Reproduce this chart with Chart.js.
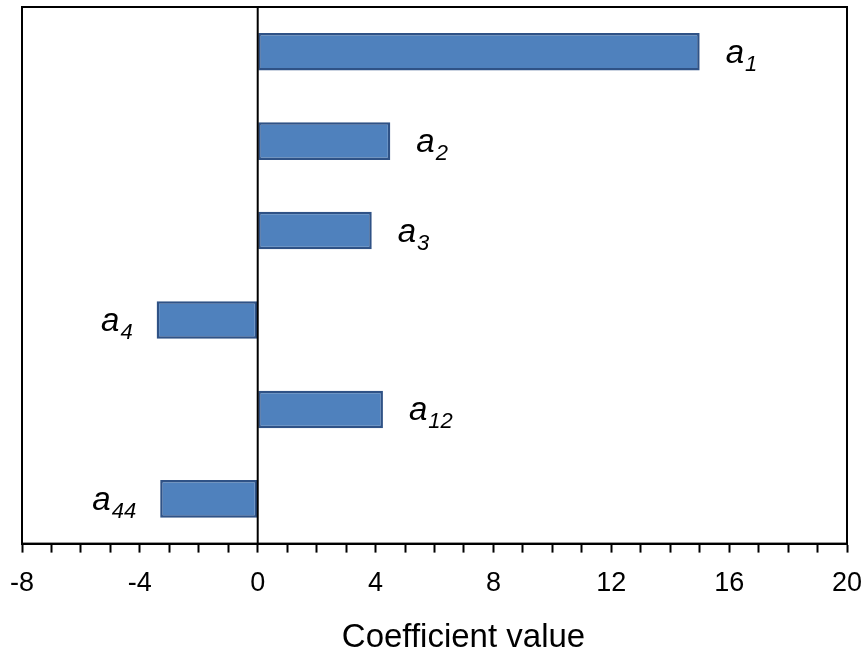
<!DOCTYPE html>
<html>
<head>
<meta charset="utf-8">
<script src="https://cdn.jsdelivr.net/npm/chart.js@4.4.0/dist/chart.umd.min.js"></script>
<style>
  html, body { margin: 0; padding: 0; background: #fff; }
  #wrap { width: 863px; height: 658px; }
</style>
</head>
<body>
<div id="wrap"><canvas id="coefChart"></canvas></div>
<script>
// regression coefficients
const coefNames = ["a1", "a2", "a3", "a4", "a12", "a44"];
const coefSubscripts = ["1", "2", "3", "4", "12", "44"];
const coefValues = [15, 4.5, 3.87, -3.43, 4.25, -3.31];

const axisMin = -8;
const axisMax = 20;
const labelStep = 4;

const FONT = "'Liberation Sans', Arial, sans-serif";

// frame, zero line, bar labels and axis title
const decorPlugin = {
  id: "decor",
  afterDatasetsDraw(chart) {
    const ctx = chart.ctx;
    const area = chart.chartArea;
    const xScale = chart.scales.x;
    ctx.save();
    ctx.strokeStyle = "#000";
    ctx.lineWidth = 2;
    ctx.strokeRect(area.left, area.top, area.right - area.left, area.bottom - area.top);

    const x0 = xScale.getPixelForValue(0);
    ctx.beginPath();
    ctx.moveTo(x0, area.top);
    ctx.lineTo(x0, area.bottom);
    ctx.stroke();

    // italic "a" with subscript next to each bar
    const bars = chart.getDatasetMeta(0).data;
    ctx.fillStyle = "#000";
    ctx.textBaseline = "alphabetic";
    bars.forEach((bar, i) => {
      const v = coefValues[i];
      const sub = coefSubscripts[i];
      ctx.font = "italic 33px " + FONT;
      const wA = ctx.measureText("a").width;
      ctx.font = "italic 22px " + FONT;
      const wS = ctx.measureText(sub).width;
      let startX;
      if (v >= 0) {
        startX = bar.x + 26;
      } else {
        startX = bar.x - 24 - (wA + 1 + wS);
      }
      ctx.font = "italic 33px " + FONT;
      ctx.fillText("a", startX, bar.y + 11);
      ctx.font = "italic 22px " + FONT;
      ctx.fillText(sub, startX + wA + 1, bar.y + 19);
    });

    ctx.font = "33px " + FONT;
    ctx.textAlign = "center";
    ctx.textBaseline = "middle";
    ctx.fillText("Coefficient value", (area.left + area.right) / 2 + 29, 638);
    ctx.restore();
  }
};

new Chart(document.getElementById("coefChart"), {
  type: "bar",
  data: {
    labels: coefNames,
    datasets: [
      {
        data: coefValues,
        backgroundColor: "#4F81BD",
        borderColor: "#2F5286",
        borderWidth: 2.5,
        borderSkipped: false,
        barPercentage: 0.42,
        categoryPercentage: 1.0,
      },
    ],
  },
  options: {
    indexAxis: "y",
    responsive: true,
    maintainAspectRatio: false,
    animation: false,
    layout: { padding: { left: 22, right: 16, top: 7, bottom: 43 } },
    plugins: {
      legend: { display: false },
      tooltip: { enabled: false },
    },
    scales: {
      y: { display: false },
      x: {
        min: axisMin,
        max: axisMax,
        // keep the end labels from pushing the plot area inwards
        afterFit: (scale) => {
          scale.paddingLeft = 0;
          scale.paddingRight = 0;
        },
        ticks: {
          stepSize: 1,
          autoSkip: false,
          maxRotation: 0,
          padding: 15,
          color: "#000",
          font: { family: FONT, size: 27 },
          callback: (v) => (v % labelStep === 0 ? String(v) : ""),
        },
        grid: {
          drawOnChartArea: false,
          drawTicks: true,
          tickLength: 9,
          tickColor: "#000",
          tickWidth: 2,
        },
        border: { display: true, color: "#000", width: 2 },
      },
    },
  },
  plugins: [decorPlugin],
});
</script>
</body>
</html>
